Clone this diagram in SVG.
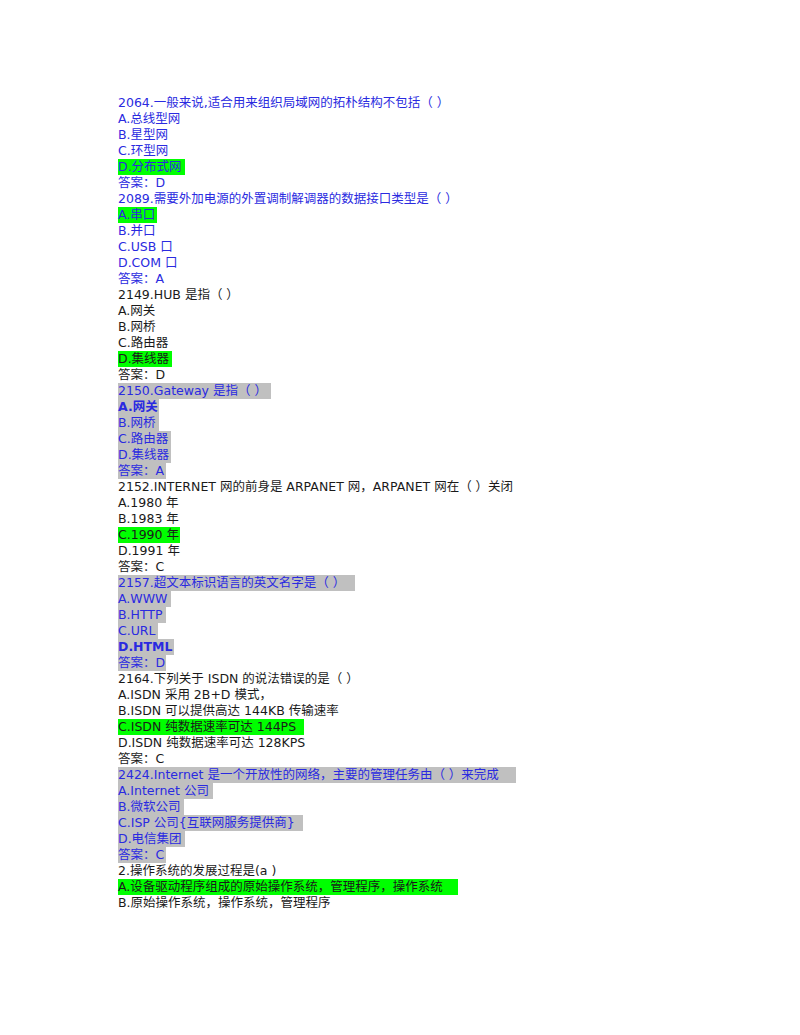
<svg xmlns="http://www.w3.org/2000/svg" width="800" height="1035" viewBox="0 0 800 1035">
<style>
text{font-family:"DejaVu Sans","Noto Sans CJK SC",sans-serif;font-size:12.5px;fill:#1a1a1a}
.b{fill:#2a2ae0}.k{font-weight:bold}
.g{fill:#00ff00}.s{fill:#c0c0c0}
</style>
<rect width="800" height="1035" fill="#fff"/>
<g id="hl">
<rect class="g" x="118" y="159" width="67" height="16"/>
<rect class="g" x="118" y="207" width="39" height="16"/>
<rect class="g" x="118" y="351" width="54" height="16"/>
<rect class="s" x="118" y="383" width="153" height="16"/>
<rect class="s" x="118" y="399" width="41" height="16"/>
<rect class="s" x="118" y="415" width="41" height="16"/>
<rect class="s" x="118" y="431" width="53" height="16"/>
<rect class="s" x="118" y="447" width="53" height="16"/>
<rect class="s" x="118" y="463" width="48" height="16"/>
<rect class="g" x="118" y="527" width="62" height="16"/>
<rect class="s" x="118" y="575" width="237" height="16"/>
<rect class="s" x="118" y="591" width="53" height="16"/>
<rect class="s" x="118" y="607" width="48" height="16"/>
<rect class="s" x="118" y="623" width="40" height="16"/>
<rect class="s" x="118" y="639" width="56" height="16"/>
<rect class="s" x="118" y="655" width="48" height="16"/>
<rect class="g" x="118" y="719" width="186" height="16"/>
<rect class="s" x="118" y="767" width="398" height="16"/>
<rect class="s" x="118" y="783" width="95" height="16"/>
<rect class="s" x="118" y="799" width="66" height="16"/>
<rect class="s" x="118" y="815" width="185" height="16"/>
<rect class="s" x="118" y="831" width="67" height="16"/>
<rect class="s" x="118" y="847" width="48" height="16"/>
<rect class="g" x="118" y="879" width="340" height="16"/>
</g>
<g id="text">
<text class="b" x="118" y="107">2064.一般来说,适合用来组织局域网的拓朴结构不包括（ ）</text>
<text class="b" x="118" y="123">A.总线型网</text>
<text class="b" x="118" y="139">B.星型网</text>
<text class="b" x="118" y="155">C.环型网</text>
<text class="b" x="118" y="171">D.分布式网</text>
<text class="b" x="118" y="187">答案：D</text>
<text class="b" x="118" y="203">2089.需要外加电源的外置调制解调器的数据接口类型是（ ）</text>
<text class="b" x="118" y="219">A.串口</text>
<text class="b" x="118" y="235">B.并口</text>
<text class="b" x="118" y="251">C.USB 口</text>
<text class="b" x="118" y="267">D.COM 口</text>
<text class="b" x="118" y="283">答案：A</text>
<text x="118" y="299">2149.HUB 是指（ ）</text>
<text x="118" y="315">A.网关</text>
<text x="118" y="331">B.网桥</text>
<text x="118" y="347">C.路由器</text>
<text x="118" y="363">D.集线器</text>
<text x="118" y="379">答案：D</text>
<text class="b" x="118" y="395">2150.Gateway 是指（ ）</text>
<text class="b k" x="118" y="411">A.网关</text>
<text class="b" x="118" y="427">B.网桥</text>
<text class="b" x="118" y="443">C.路由器</text>
<text class="b" x="118" y="459">D.集线器</text>
<text class="b" x="118" y="475">答案：A</text>
<text x="118" y="491">2152.INTERNET 网的前身是 ARPANET 网，ARPANET 网在（ ）关闭</text>
<text x="118" y="507">A.1980 年</text>
<text x="118" y="523">B.1983 年</text>
<text x="118" y="539">C.1990 年</text>
<text x="118" y="555">D.1991 年</text>
<text x="118" y="571">答案：C</text>
<text class="b" x="118" y="587">2157.超文本标识语言的英文名字是（ ）</text>
<text class="b" x="118" y="603">A.WWW</text>
<text class="b" x="118" y="619">B.HTTP</text>
<text class="b" x="118" y="635">C.URL</text>
<text class="b k" x="118" y="651">D.HTML</text>
<text class="b" x="118" y="667">答案：D</text>
<text x="118" y="683">2164.下列关于 ISDN 的说法错误的是（ ）</text>
<text x="118" y="699">A.ISDN 采用 2B+D 模式，</text>
<text x="118" y="715">B.ISDN 可以提供高达 144KB 传输速率</text>
<text x="118" y="731">C.ISDN 纯数据速率可达 144PS</text>
<text x="118" y="747">D.ISDN 纯数据速率可达 128KPS</text>
<text x="118" y="763">答案：C</text>
<text class="b" x="118" y="779">2424.Internet 是一个开放性的网络，主要的管理任务由（ ）来完成</text>
<text class="b" x="118" y="795">A.Internet 公司</text>
<text class="b" x="118" y="811">B.微软公司</text>
<text class="b" x="118" y="827">C.ISP 公司{互联网服务提供商}</text>
<text class="b" x="118" y="843">D.电信集团</text>
<text class="b" x="118" y="859">答案：C</text>
<text x="118" y="875">2.操作系统的发展过程是(a )</text>
<text x="118" y="891">A.设备驱动程序组成的原始操作系统，管理程序，操作系统</text>
<text x="118" y="907">B.原始操作系统，操作系统，管理程序</text>
</g>
</svg>
